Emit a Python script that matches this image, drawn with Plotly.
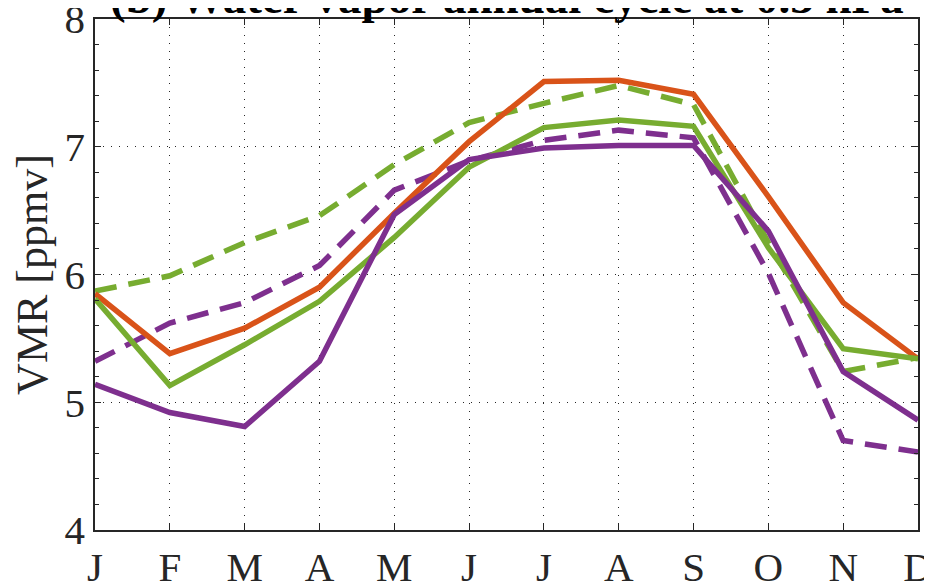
import plotly.graph_objects as go

months = ["J", "F", "M", "A", "M", "J", "J", "A", "S", "O", "N", "D"]
x_idx = list(range(1, 13))

orange_solid = [5.85, 5.38, 5.58, 5.90, 6.48, 7.04, 7.51, 7.52, 7.41, 6.61, 5.78, 5.34]
green_solid = [5.81, 5.13, 5.45, 5.79, 6.29, 6.84, 7.15, 7.21, 7.16, 6.21, 5.42, 5.34]
green_dashed = [5.87, 5.99, 6.25, 6.46, 6.86, 7.19, 7.34, 7.48, 7.33, 6.25, 5.24, 5.35]
purple_solid = [5.14, 4.92, 4.81, 5.32, 6.47, 6.90, 6.99, 7.01, 7.01, 6.34, 5.24, 4.86]
purple_dashed = [5.32, 5.62, 5.78, 6.07, 6.66, 6.89, 7.05, 7.13, 7.07, 6.01, 4.70, 4.61]

ORANGE = "#D95319"
GREEN = "#77AC30"
PURPLE = "#7E2F8E"
FONT = "Liberation Serif, Times New Roman, serif"
TXT = "#262626"

series = [
    (green_dashed, GREEN, "22px,12px"),
    (purple_dashed, PURPLE, "22px,12px"),
    (orange_solid, ORANGE, "solid"),
    (green_solid, GREEN, "solid"),
    (purple_solid, PURPLE, "solid"),
]

fig = go.Figure()
for vals, col, dash in series:
    fig.add_trace(go.Scatter(x=x_idx, y=vals, mode="lines",
                             line=dict(color=col, width=5.5, dash=dash),
                             showlegend=False, cliponaxis=False))

# page has an 8px body margin, so the figure is sized/offset to compensate
fig.update_layout(
    width=924, height=579,
    margin=dict(l=87, r=14, t=11, b=57, autoexpand=False),
    paper_bgcolor="white", plot_bgcolor="white",
    font=dict(family=FONT, color=TXT, size=41),
)

fig.update_xaxes(
    range=[1, 12], tickmode="array", tickvals=x_idx, ticktext=months,
    showgrid=True, gridcolor="#262626", griddash="1px,7px", gridwidth=1.2,
    showline=True, linecolor="#262626", linewidth=1.5, mirror="ticks",
    ticks="inside", ticklen=6, tickcolor="#262626",
    tickfont=dict(family=FONT, size=41, color=TXT), zeroline=False,
    automargin=False, ticklabeloverflow="allow", ticklabelstandoff=0,
)
fig.update_yaxes(
    range=[4, 8], tickmode="array", tickvals=[4, 5, 6, 7, 8],
    showgrid=True, gridcolor="#262626", griddash="1px,7px", gridwidth=1.2,
    showline=True, linecolor="#262626", linewidth=1.5, mirror="ticks",
    ticks="inside", ticklen=6, tickcolor="#262626",
    minor=dict(tickvals=[4.2, 4.4, 4.6, 4.8, 5.2, 5.4, 5.6, 5.8, 6.2, 6.4, 6.6, 6.8,
                         7.2, 7.4, 7.6, 7.8],
               ticks="inside", ticklen=4, tickcolor="#262626", showgrid=False),
    tickfont=dict(family=FONT, size=41, color=TXT), zeroline=False,
    automargin=False, ticklabeloverflow="allow",
    title=dict(text="VMR [ppmv]", font=dict(family=FONT, size=44, color=TXT), standoff=10),
)

fig.add_annotation(
    text="<b>(b) Water vapor annual cycle at 0.3 hPa</b>",
    xref="paper", yref="paper", x=0.5, y=1.043, xanchor="center", yanchor="middle",
    showarrow=False, font=dict(family=FONT, size=47, color="black"),
)

fig.write_html("out.html")
